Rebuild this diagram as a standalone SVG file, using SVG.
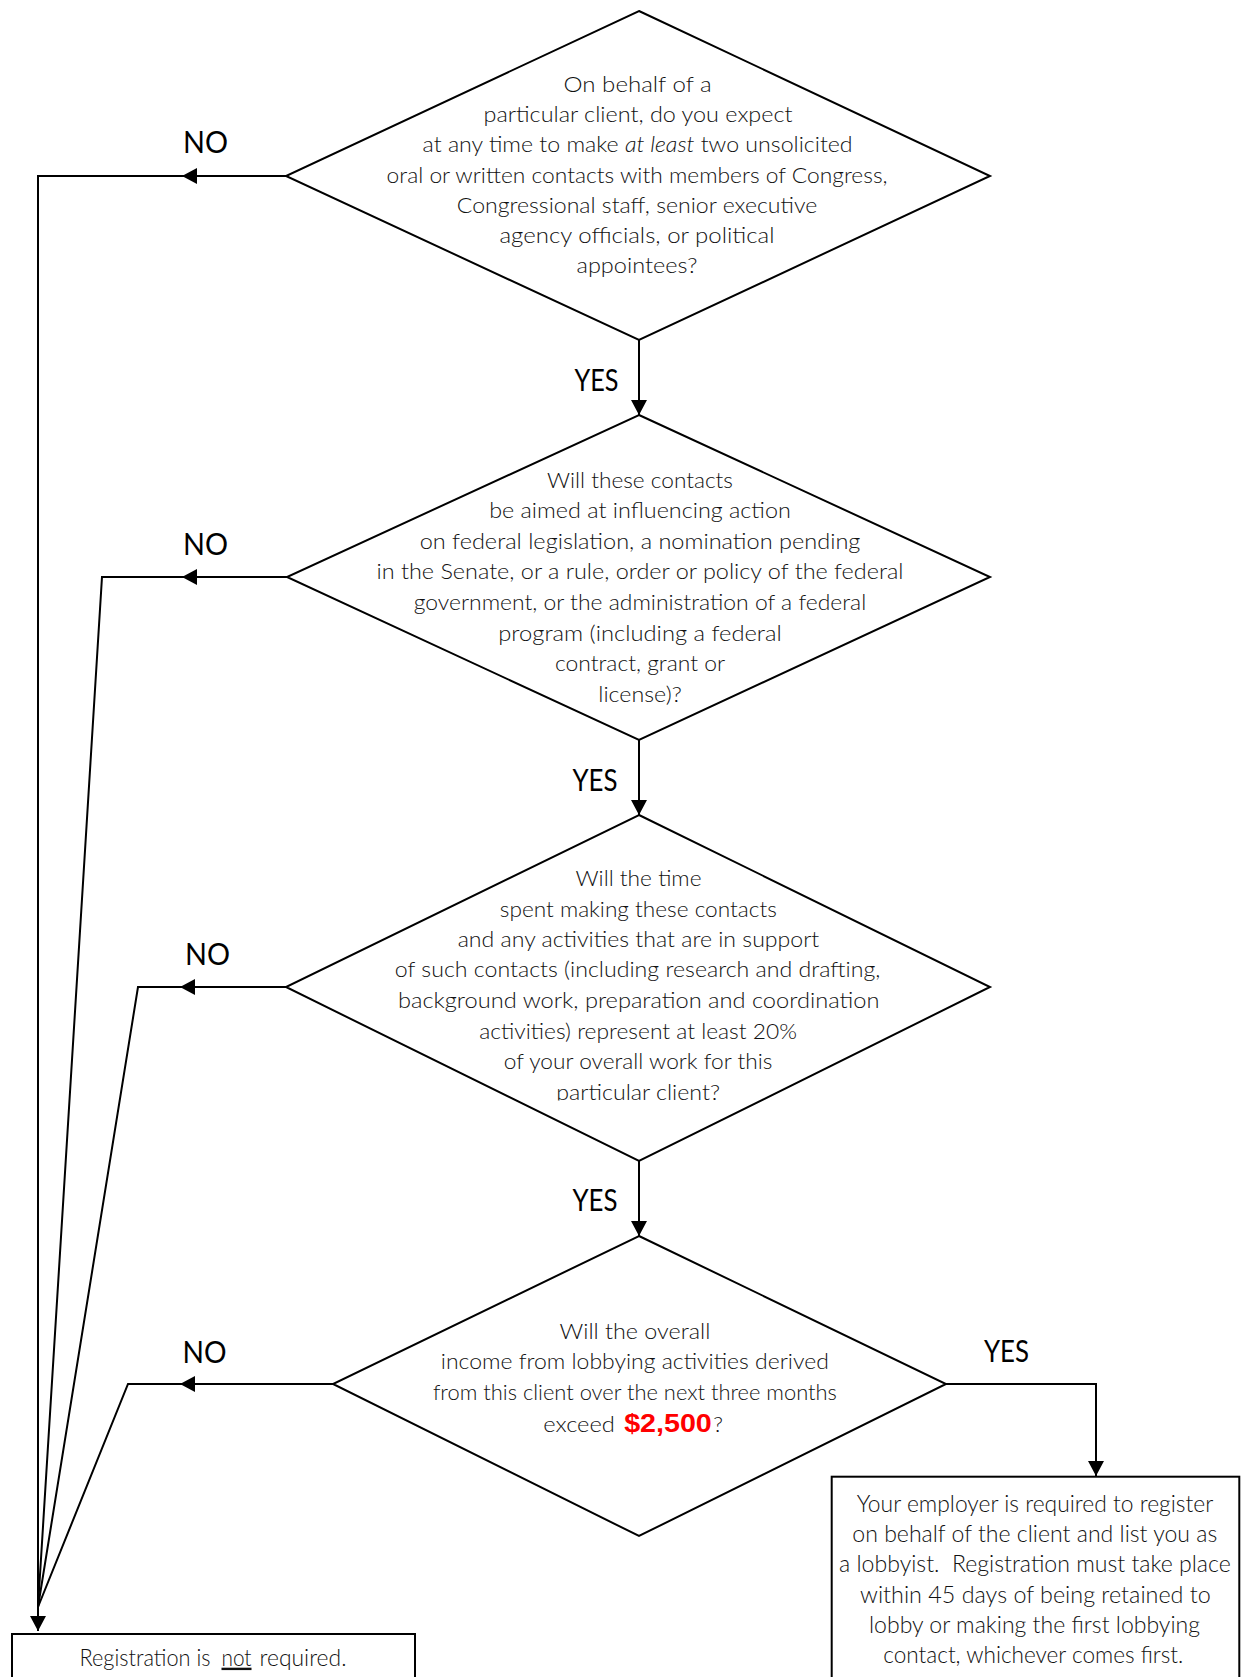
<svg xmlns="http://www.w3.org/2000/svg" xmlns:xlink="http://www.w3.org/1999/xlink" width="1241" height="1677" viewBox="0 0 1241 1677">
<style>
  .shape { fill: #ffffff; stroke: #000000; stroke-width: 2; }
  .conn { fill: none; stroke: #000000; stroke-width: 2; }
  .q { font-family: Lato, "Liberation Sans", sans-serif; font-weight: 300; font-size: 21px; fill: #111111; text-anchor: middle; }
  .qs { font-family: Lato, "Liberation Sans", sans-serif; font-weight: 300; font-size: 21px; fill: #111111; }
  .box { font-family: Lato, "Liberation Sans", sans-serif; font-weight: 300; font-size: 23px; fill: #111111; text-anchor: middle; }
  .nr { font-family: Lato, "Liberation Sans", sans-serif; font-weight: 300; font-size: 24px; fill: #111111; }
  .lbl { font-family: Lato, "Liberation Sans", sans-serif; font-weight: 400; font-size: 30px; fill: #000000; }
  .money { font-family: "Liberation Sans", Arial, sans-serif; font-weight: 700; font-size: 25.5px; fill: #ff0000; }
</style>
<defs>
  <marker id="arrow" viewBox="0 0 15 16" refX="15" refY="8" markerWidth="15" markerHeight="16" markerUnits="userSpaceOnUse" orient="auto">
    <path d="M0,0 L15,8 L0,16 Z" fill="#000000"/>
  </marker>
  <clipPath id="clipD3">
    <rect x="300" y="800" width="680" height="300.5"/>
  </clipPath>
</defs>
<rect x="0" y="0" width="1241" height="1677" fill="#ffffff"/>

<g id="connectors">
  <!-- YES connectors -->
  <path class="conn" d="M639,340 V415" marker-end="url(#arrow)"/>
  <path class="conn" d="M639,740 V815" marker-end="url(#arrow)"/>
  <path class="conn" d="M639,1161 V1236" marker-end="url(#arrow)"/>
  <path class="conn" d="M946,1384 H1096 V1476" marker-end="url(#arrow)"/>
  <!-- NO connectors -->
  <path class="conn" d="M286,176 H182" marker-end="url(#arrow)"/>
  <path class="conn" d="M184,176 H38 V1615"/>
  <path class="conn" d="M287,577 H182" marker-end="url(#arrow)"/>
  <path class="conn" d="M184,577 H102 L38,1607"/>
  <path class="conn" d="M286,987 H180" marker-end="url(#arrow)"/>
  <path class="conn" d="M182,987 H138 L38,1607"/>
  <path class="conn" d="M333,1384 H180" marker-end="url(#arrow)"/>
  <path class="conn" d="M182,1384 H128 L38,1607"/>
  <path class="conn" d="M38,1605 V1631" marker-end="url(#arrow)"/>
  <!-- labels -->
  <text class="lbl" x="183" y="153" textLength="45" lengthAdjust="spacingAndGlyphs">NO</text>
  <text class="lbl" x="183" y="555" textLength="45" lengthAdjust="spacingAndGlyphs">NO</text>
  <text class="lbl" x="185" y="965" textLength="45" lengthAdjust="spacingAndGlyphs">NO</text>
  <text class="lbl" x="182.5" y="1363" textLength="44" lengthAdjust="spacingAndGlyphs">NO</text>
  <text class="lbl" x="574.5" y="390.5" textLength="44" lengthAdjust="spacingAndGlyphs">YES</text>
  <text class="lbl" x="572.5" y="790.5" textLength="45" lengthAdjust="spacingAndGlyphs">YES</text>
  <text class="lbl" x="572.5" y="1211" textLength="45" lengthAdjust="spacingAndGlyphs">YES</text>
  <text class="lbl" x="984" y="1361.5" textLength="45" lengthAdjust="spacingAndGlyphs">YES</text>
</g>

<g id="q1">
  <polygon class="shape" points="639,11 990,176 639,340 286,176"/>
  <text class="q" x="637.6" y="91.7" textLength="148" lengthAdjust="spacingAndGlyphs">On behalf of a</text>
  <text class="q" x="638" y="121.7" textLength="309" lengthAdjust="spacingAndGlyphs">particular client, do you expect</text>
  <text class="q" x="637.6" y="151.7" textLength="430" lengthAdjust="spacingAndGlyphs">at any time to make <tspan font-style="italic">at least</tspan> two unsolicited</text>
  <text class="q" x="637.1" y="182.5" textLength="501" lengthAdjust="spacingAndGlyphs">oral or written contacts with members of Congress,</text>
  <text class="q" x="637" y="213" textLength="360.5" lengthAdjust="spacingAndGlyphs">Congressional staff, senior executive</text>
  <text class="q" x="637" y="243.3" textLength="275" lengthAdjust="spacingAndGlyphs">agency officials, or political</text>
  <text class="q" x="637" y="273.3" textLength="121" lengthAdjust="spacingAndGlyphs">appointees?</text>
</g>

<g id="q2">
  <polygon class="shape" points="639,415 990,577 639,740 287,577"/>
  <text class="q" x="640" y="487.5" textLength="186" lengthAdjust="spacingAndGlyphs">Will these contacts</text>
  <text class="q" x="640" y="518.3" textLength="301.7" lengthAdjust="spacingAndGlyphs">be aimed at influencing action</text>
  <text class="q" x="640" y="548.5" textLength="440.7" lengthAdjust="spacingAndGlyphs">on federal legislation, a nomination pending</text>
  <text class="q" x="640" y="579.3" textLength="527" lengthAdjust="spacingAndGlyphs">in the Senate, or a rule, order or policy of the federal</text>
  <text class="q" x="640" y="610" textLength="452.5" lengthAdjust="spacingAndGlyphs">government, or the administration of a federal</text>
  <text class="q" x="640" y="640.5" textLength="283.5" lengthAdjust="spacingAndGlyphs">program (including a federal</text>
  <text class="q" x="640" y="671" textLength="170" lengthAdjust="spacingAndGlyphs">contract, grant or</text>
  <text class="q" x="640" y="701.5" textLength="83.5" lengthAdjust="spacingAndGlyphs">license)?</text>
</g>

<g id="q3">
  <polygon class="shape" points="639,815 990,987 639,1161 286,987"/>
  <g clip-path="url(#clipD3)">
    <text class="q" x="638.5" y="886" textLength="126" lengthAdjust="spacingAndGlyphs">Will the time</text>
    <text class="q" x="638.3" y="916.7" textLength="277" lengthAdjust="spacingAndGlyphs">spent making these contacts</text>
    <text class="q" x="638.5" y="946.8" textLength="361.6" lengthAdjust="spacingAndGlyphs">and any activities that are in support</text>
    <text class="q" x="637.6" y="977.3" textLength="485.5" lengthAdjust="spacingAndGlyphs">of such contacts (including research and drafting,</text>
    <text class="q" x="638.7" y="1007.5" textLength="481.4" lengthAdjust="spacingAndGlyphs">background work, preparation and coordination</text>
    <text class="q" x="638.1" y="1038.5" textLength="317.7" lengthAdjust="spacingAndGlyphs">activities) represent at least 20%</text>
    <text class="q" x="638.1" y="1069" textLength="268.5" lengthAdjust="spacingAndGlyphs">of your overall work for this</text>
    <text class="q" x="638.1" y="1099.5" textLength="163.7" lengthAdjust="spacingAndGlyphs">particular client?</text>
  </g>
</g>

<g id="q4">
  <polygon class="shape" points="639,1236 946,1384 639,1536 333,1384"/>
  <text class="q" x="634.9" y="1338.5" textLength="150.8" lengthAdjust="spacingAndGlyphs">Will the overall</text>
  <text class="q" x="634.8" y="1369.3" textLength="388" lengthAdjust="spacingAndGlyphs">income from lobbying activities derived</text>
  <text class="q" x="634.9" y="1400" textLength="404" lengthAdjust="spacingAndGlyphs">from this client over the next three months</text>
  <text class="qs" x="543.3" y="1431.7" textLength="71.6" lengthAdjust="spacingAndGlyphs">exceed</text>
  <text class="money" x="624.2" y="1431.7" textLength="87.6" lengthAdjust="spacingAndGlyphs">$2,500</text>
  <text class="qs" x="713.2" y="1431.7" textLength="9.7" lengthAdjust="spacingAndGlyphs">?</text>
</g>

<g id="register">
  <rect class="shape" x="831.7" y="1476.7" width="407.6" height="230"/>
  <text class="box" x="1035" y="1511.7" textLength="356.7" lengthAdjust="spacingAndGlyphs">Your employer is required to register</text>
  <text class="box" x="1034.8" y="1541.7" textLength="365" lengthAdjust="spacingAndGlyphs">on behalf of the client and list you as</text>
  <text class="box" x="1034.9" y="1571.7" textLength="391.7" lengthAdjust="spacingAndGlyphs" xml:space="preserve">a lobbyist.  Registration must take place</text>
  <text class="box" x="1035.4" y="1602.7" textLength="350.7" lengthAdjust="spacingAndGlyphs">within 45 days of being retained to</text>
  <text class="box" x="1034.5" y="1632.7" textLength="331" lengthAdjust="spacingAndGlyphs">lobby or making the first lobbying</text>
  <text class="box" x="1033.3" y="1662.7" textLength="300" lengthAdjust="spacingAndGlyphs">contact, whichever comes first.</text>
</g>

<g id="not-required">
  <rect class="shape" x="12" y="1634" width="403" height="80"/>
  <text class="nr" x="79.5" y="1665.7" textLength="131" lengthAdjust="spacingAndGlyphs">Registration is</text>
  <text class="nr" x="221.5" y="1665.7" textLength="30" lengthAdjust="spacingAndGlyphs" text-decoration="underline">not</text>
  <text class="nr" x="259.5" y="1665.7" textLength="87" lengthAdjust="spacingAndGlyphs">required.</text>
</g>
</svg>
